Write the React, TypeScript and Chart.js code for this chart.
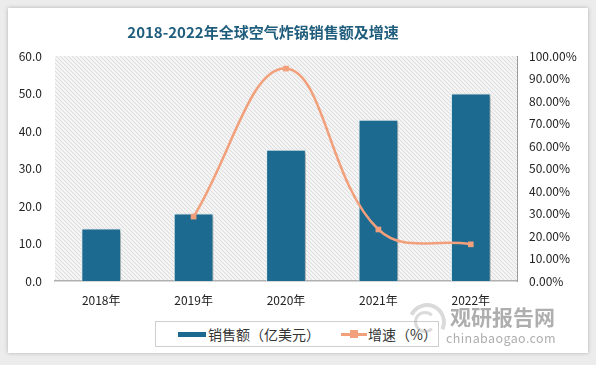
import React, { useEffect, useRef } from "react";
import { Chart, registerables } from "chart.js";

Chart.register(...registerables);

const categories = ["2018年", "2019年", "2020年", "2021年", "2022年"];
const salesValues = [14, 18, 35, 43, 50];
const growthValues: (number | null)[] = [null, 28.6, 94.4, 22.9, 16.3];
const leftTicks = [0, 10, 20, 30, 40, 50, 60];
const rightTicks = [0, 10, 20, 30, 40, 50, 60, 70, 80, 90, 100];

const FONT = "'Noto Sans CJK SC', 'Noto Sans', sans-serif";

function makePattern(ctx: CanvasRenderingContext2D) {
  const c = document.createElement("canvas");
  c.width = 4;
  c.height = 4;
  const p = c.getContext("2d")!;
  p.fillStyle = "#f4f4f4";
  p.fillRect(0, 0, 4, 4);
  p.strokeStyle = "#dcdcdc";
  p.lineWidth = 1;
  p.beginPath();
  p.moveTo(0, 0);
  p.lineTo(4, 4);
  p.stroke();
  return ctx.createPattern(c, "repeat");
}

const bgPlugin = {
  id: "hatchBg",
  beforeDraw(chart: any) {
    const { ctx, chartArea } = chart;
    if (!chartArea) return;
    ctx.save();
    const pat = makePattern(ctx);
    if (pat) ctx.fillStyle = pat;
    ctx.fillRect(chartArea.left, chartArea.top, chartArea.right - chartArea.left, chartArea.bottom - chartArea.top);
    ctx.restore();
  },
  beforeDatasetDraw(chart: any, args: any) {
    if (args.index === 1) {
      const ctx = chart.ctx;
      ctx.save();
      ctx.shadowColor = "rgba(0,0,0,0.35)";
      ctx.shadowOffsetX = 2;
      ctx.shadowOffsetY = 1;
      ctx.shadowBlur = 3;
    }
  },
  afterDatasetDraw(chart: any, args: any) {
    if (args.index === 1) chart.ctx.restore();
  },
};

export default function App() {
  const ref = useRef<HTMLCanvasElement>(null);

  useEffect(() => {
    const chart = new Chart(ref.current!, {
      type: "bar",
      data: {
        labels: categories,
        datasets: [
          {
            type: "line",
            label: "增速（%）",
            data: growthValues,
            yAxisID: "y1",
            borderColor: "#f2a07c",
            backgroundColor: "#f2a07c",
            borderWidth: 2.5,
            tension: 0.4,
            pointStyle: "rect",
            pointRadius: 4,
            pointBorderWidth: 0,
            order: 0,
          } as any,
          {
            type: "bar",
            label: "销售额（亿美元）",
            data: salesValues,
            yAxisID: "y",
            backgroundColor: "#1d6a90",
            borderColor: "#e2f3f8",
            borderWidth: 1,
            categoryPercentage: 1,
            barPercentage: 0.43,
            order: 1,
          } as any,
        ],
      },
      options: {
        responsive: false,
        animation: false,
        layout: { padding: { top: 56, bottom: 54, left: 0, right: 0 } },
        plugins: {
          legend: { display: false },
          title: { display: false },
          tooltip: { enabled: false },
        },
        scales: {
          x: {
            grid: { display: false, drawTicks: false },
            border: { display: true, color: "#b0b0b0", width: 1.5 },
            ticks: { padding: 12, color: "#222", font: { family: FONT, size: 12 } },
            afterFit(s: any) {
              s.height = 30;
            },
          },
          y: {
            position: "left",
            min: 0,
            max: 60,
            afterBuildTicks(s: any) {
              s.ticks = leftTicks.map((v) => ({ value: v }));
            },
            grid: { display: false, drawTicks: false },
            border: { display: false },
            ticks: {
              padding: 13,
              color: "#222",
              font: { family: FONT, size: 12 },
              callback: (v: any) => Number(v).toFixed(1),
            },
            afterFit(s: any) {
              s.width = 55;
            },
          },
          y1: {
            position: "right",
            min: 0,
            max: 100,
            afterBuildTicks(s: any) {
              s.ticks = rightTicks.map((v) => ({ value: v }));
            },
            grid: { display: false, drawOnChartArea: false, drawTicks: true, tickLength: 5, color: "#999" },
            border: { display: true, color: "#999" },
            ticks: {
              padding: 7,
              color: "#222",
              font: { family: FONT, size: 12 },
              callback: (v: any) => Number(v).toFixed(2) + "%",
            },
            afterFit(s: any) {
              s.width = 79;
            },
          },
        },
      },
      plugins: [bgPlugin],
    });
    return () => chart.destroy();
  }, []);

  return (
    <div style={{ position: "fixed", left: 0, top: 0, width: 596, height: 365, background: "#ececec", overflow: "hidden", fontFamily: FONT }}>
      <div style={{ position: "absolute", left: 8, top: 8, width: 580, height: 345, background: "#fff", boxShadow: "0 0 4px rgba(0,0,0,0.25)" }} />
      <canvas ref={ref} width={596} height={365} style={{ position: "absolute", left: 0, top: 0, width: 596, height: 365 }} />
      <div style={{ position: "absolute", left: 0, top: 21, width: 526, textAlign: "center", fontSize: 15, fontWeight: 700, color: "#1f5d7c" }}>
        2018-2022年全球空气炸锅销售额及增速
      </div>
      <div style={{ position: "absolute", left: 155, top: 321, width: 284, height: 26, border: "1px solid #cfcfcf", background: "#fff", boxSizing: "border-box" }}>
        <div style={{ position: "absolute", left: 22, top: 10, width: 28, height: 5, background: "#1d6a90" }} />
        <div style={{ position: "absolute", left: 52, top: 2, fontSize: 14, color: "#333", whiteSpace: "nowrap", lineHeight: "20px" }}>销售额（亿美元）</div>
        <div style={{ position: "absolute", left: 185, top: 11, width: 26, height: 2.5, background: "#f2a07c" }} />
        <div style={{ position: "absolute", left: 194, top: 8, width: 8, height: 8, background: "#f2a07c" }} />
        <div style={{ position: "absolute", left: 212, top: 2, fontSize: 14, color: "#333", whiteSpace: "nowrap", lineHeight: "20px" }}>增速（%）</div>
      </div>
      <div style={{ position: "absolute", left: 408, top: 303, width: 30, height: 30, borderRadius: "50%", border: "4px solid rgba(150,150,150,0.35)", borderLeftColor: "transparent", borderBottomColor: "transparent", transform: "rotate(-20deg)" }} />
      <div style={{ position: "absolute", left: 414, top: 311, width: 16, height: 16, borderRadius: "50%", border: "3px solid rgba(150,150,150,0.35)", borderRightColor: "transparent" }} />
      <div style={{ position: "absolute", left: 450, top: 302, fontSize: 21, fontWeight: 700, color: "rgba(140,140,140,0.7)", whiteSpace: "nowrap", lineHeight: "28px" }}>观研报告网</div>
      <div style={{ position: "absolute", left: 446, top: 330, fontSize: 12.5, color: "rgba(140,140,140,0.7)", whiteSpace: "nowrap", letterSpacing: 0.4, lineHeight: "16px" }}>chinabaogao.com</div>
    </div>
  );
}
